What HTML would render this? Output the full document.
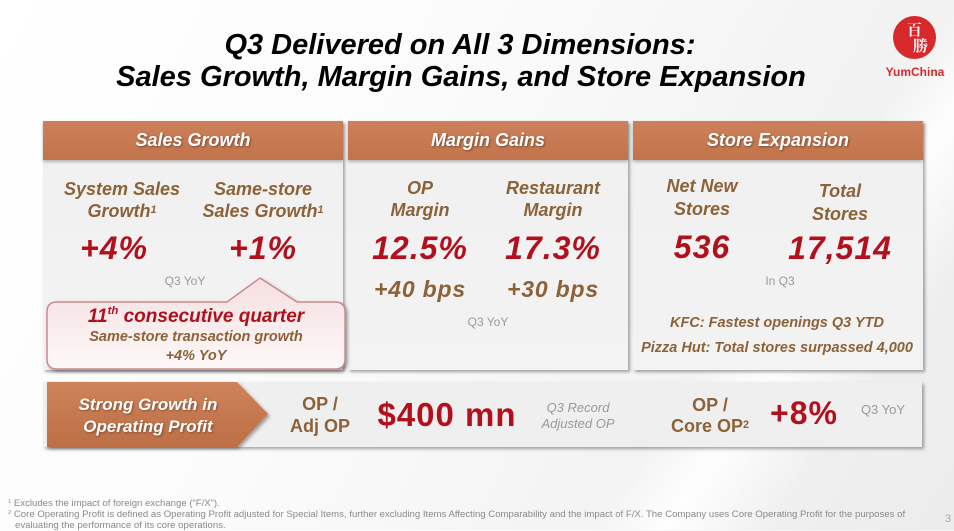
<!DOCTYPE html>
<html><head><meta charset="utf-8"><style>
*{margin:0;padding:0;box-sizing:border-box}
body{width:954px;height:530px;overflow:hidden;position:relative;font-family:"Liberation Sans","Noto Sans CJK SC",sans-serif;
background:linear-gradient(118deg,#ffffff 0%,#fbfbfb 40%,#f3f3f3 70%,#ececec 100%);}
.sheen{position:absolute;left:0;top:0;width:954px;height:530px;background:linear-gradient(125deg,rgba(255,255,255,0) 72%,rgba(255,255,255,.9) 78%,rgba(255,255,255,0) 86%);}
.t{position:absolute;white-space:nowrap;text-align:center;line-height:1.15}
.panel{position:absolute;top:121px;height:249px;background:linear-gradient(#f0f0f0,#f3f3f3);box-shadow:2px 2px 3px rgba(0,0,0,.35);}
.hdr{position:absolute;left:0;top:0;width:100%;height:39px;background:linear-gradient(#cc815a,#c2734b);color:#fff;font-weight:bold;font-style:italic;font-size:18px;line-height:39px;text-align:center;text-shadow:1px 1px 2px rgba(0,0,0,.4);box-shadow:0 2px 3px rgba(0,0,0,.25)}
.lab{color:#8c6239;font-weight:bold;font-style:italic;font-size:18px;line-height:22px}
.num{color:#b3101d;font-weight:bold;font-style:italic;font-size:32px;letter-spacing:1px}
.bps{color:#8c6239;font-weight:bold;font-style:italic;font-size:23px;letter-spacing:.8px}
.sm{color:#9a9a9a;font-size:12px}
sup{font-size:60%;vertical-align:top;position:relative;top:-1px}
.foot{position:absolute;left:8px;font-size:9.6px;color:#8a8a8a;white-space:nowrap;line-height:11px}
</style></head><body>
<div class="sheen"></div>

<div class="t" style="left:100px;width:720px;top:29px;font-size:29px;font-weight:bold;font-style:italic;color:#000">Q3 Delivered on All 3 Dimensions:</div>
<div class="t" style="left:100px;width:722px;top:61px;font-size:29px;font-weight:bold;font-style:italic;color:#000">Sales Growth, Margin Gains, and Store Expansion</div>

<!-- logo -->
<div style="position:absolute;left:893px;top:16px;width:43px;height:43px;border-radius:50%;background:#d7282b"></div>
<div class="t" style="left:893px;width:43px;top:22px;font-size:15px;line-height:16px;color:#fff;font-family:'Noto Serif CJK SC','Noto Sans CJK SC',serif;font-weight:bold">百<br><span style="position:relative;left:6px">勝</span></div>
<div class="t" style="left:880px;width:70px;top:66px;font-size:12px;font-weight:bold;color:#d7282b">YumChina</div>

<!-- panels -->
<div class="panel" style="left:43px;width:300px"><div class="hdr">Sales Growth</div></div>
<div class="panel" style="left:348px;width:280px"><div class="hdr">Margin Gains</div></div>
<div class="panel" style="left:633px;width:290px"><div class="hdr">Store Expansion</div></div>

<!-- sales -->
<div class="t lab" style="left:42px;width:160px;top:178px">System Sales<br>Growth<sup>1</sup></div>
<div class="t lab" style="left:183px;width:160px;top:178px">Same-store<br>Sales Growth<sup>1</sup></div>
<div class="t num" style="left:54px;width:120px;top:230px">+4%</div>
<div class="t num" style="left:203px;width:120px;top:230px">+1%</div>
<div class="t sm" style="left:145px;width:80px;top:275px">Q3 YoY</div>

<svg style="position:absolute;left:0;top:0" width="954" height="530">
<defs><linearGradient id="cg" x1="0" y1="0" x2="0" y2="1"><stop offset="0" stop-color="#f6dfe1"/><stop offset="1" stop-color="#fdf8f8"/></linearGradient>
<linearGradient id="ag" x1="0" y1="0" x2="0" y2="1"><stop offset="0" stop-color="#cd835b"/><stop offset="1" stop-color="#bd6e45"/></linearGradient>
<filter id="sh" x="-5%" y="-5%" width="115%" height="130%"><feDropShadow dx="2" dy="2" stdDeviation="1.5" flood-opacity=".35"/></filter></defs>
<path d="M57 302 L227 302 L260 278 L297 302 L335 302 Q345 302 345 312 L345 359 Q345 369 335 369 L57 369 Q47 369 47 359 L47 312 Q47 302 57 302 Z" fill="url(#cg)" stroke="#c98a8f" stroke-width="1.5" filter="url(#sh)"/>
<rect x="43" y="382" width="879" height="65" fill="#efefef" filter="url(#sh)"/>
<polygon points="47,382 237,382 268,414 237,447 47,447" fill="url(#ag)" filter="url(#sh)"/>
</svg>

<div class="t" style="left:46px;width:300px;top:306px;font-size:19px;font-weight:bold;font-style:italic;color:#b0101c">11<sup>th</sup> consecutive quarter</div>
<div class="t" style="left:46px;width:300px;top:329px;font-size:14.5px;font-weight:bold;font-style:italic;color:#8c6239">Same-store transaction growth</div>
<div class="t" style="left:46px;width:300px;top:348px;font-size:14.5px;font-weight:bold;font-style:italic;color:#8c6239">+4% YoY</div>

<!-- margin -->
<div class="t lab" style="left:350px;width:140px;top:177px">OP<br>Margin</div>
<div class="t lab" style="left:478px;width:150px;top:177px">Restaurant<br>Margin</div>
<div class="t num" style="left:355px;width:130px;top:230px">12.5%</div>
<div class="t num" style="left:488px;width:130px;top:230px">17.3%</div>
<div class="t bps" style="left:355px;width:130px;top:276px">+40 bps</div>
<div class="t bps" style="left:488px;width:130px;top:276px">+30 bps</div>
<div class="t sm" style="left:448px;width:80px;top:316px">Q3 YoY</div>

<!-- store -->
<div class="t lab" style="left:632px;width:140px;top:175px;line-height:23px">Net New<br>Stores</div>
<div class="t lab" style="left:770px;width:140px;top:180px;line-height:23px">Total<br>Stores</div>
<div class="t num" style="left:637px;width:130px;top:229px">536</div>
<div class="t num" style="left:770px;width:140px;top:230px">17,514</div>
<div class="t sm" style="left:740px;width:80px;top:275px">In Q3</div>
<div class="t" style="left:637px;width:280px;top:315px;font-size:14.5px;font-weight:bold;font-style:italic;color:#8c6239">KFC: Fastest openings Q3 YTD</div>
<div class="t" style="left:627px;width:300px;top:340px;font-size:14.5px;font-weight:bold;font-style:italic;color:#8c6239">Pizza Hut: Total stores surpassed 4,000</div>

<!-- bottom bar -->
<div class="t" style="left:58px;width:180px;top:394px;font-size:17px;line-height:22px;font-weight:bold;font-style:italic;color:#fff;text-shadow:1px 1px 2px rgba(0,0,0,.35)">Strong Growth in<br>Operating Profit</div>
<div class="t" style="left:270px;width:100px;top:393px;font-size:18px;line-height:22px;font-weight:bold;color:#8c6239">OP /<br>Adj OP</div>
<div class="t" style="left:372px;width:150px;top:396px;font-size:33px;font-weight:bold;letter-spacing:1px;color:#b3101d">$400 mn</div>
<div class="t" style="left:528px;width:100px;top:400px;font-size:13px;line-height:16px;font-style:italic;color:#9a9a9a">Q3 Record<br>Adjusted OP</div>
<div class="t" style="left:660px;width:100px;top:395px;font-size:18px;line-height:21px;font-weight:bold;color:#8c6239">OP /<br>Core OP<sup>2</sup></div>
<div class="t num" style="left:744px;width:120px;top:395px;font-style:normal">+8%</div>
<div class="t" style="left:850px;width:66px;top:403px;font-size:13px;color:#9a9a9a">Q3 YoY</div>

<!-- footnotes -->
<div class="foot" style="top:498px"><sup>1</sup> Excludes the impact of foreign exchange (“F/X”).</div>
<div class="foot" style="top:509px"><sup>2</sup> Core Operating Profit is defined as Operating Profit adjusted for Special Items, further excluding Items Affecting Comparability and the impact of F/X. The Company uses Core Operating Profit for the purposes of</div>
<div class="foot" style="top:520px;left:15px">evaluating the performance of its core operations.</div>
<div class="t" style="left:941px;width:14px;top:513px;font-size:11px;color:#aaa">3</div>
</body></html>
